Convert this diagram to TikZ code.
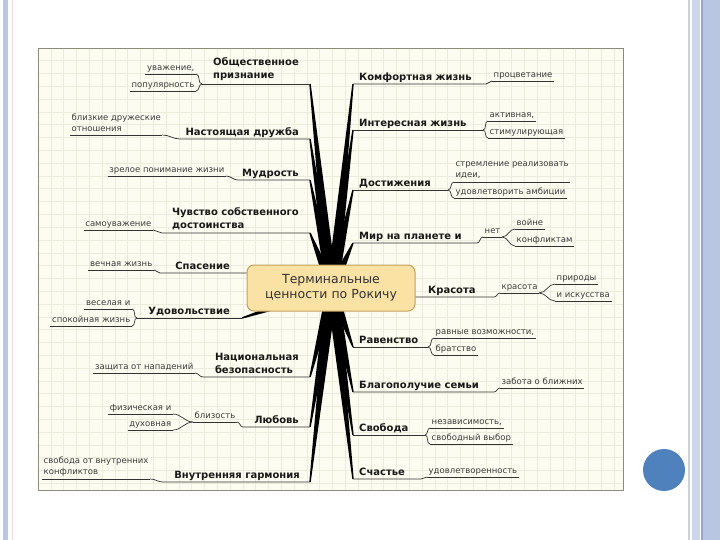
\documentclass[tikz,border=0pt]{standalone}
\usepackage{fontspec}
\setmainfont{DejaVu Sans}
\usetikzlibrary{calc}

\definecolor{paper}{RGB}{252,252,241}
\definecolor{gridc}{RGB}{235,237,220}
\definecolor{framec}{RGB}{140,140,122}
\definecolor{boxfill}{RGB}{250,226,165}
\definecolor{boxline}{RGB}{196,160,92}
\definecolor{subtext}{RGB}{60,60,60}
\definecolor{slidebar}{RGB}{184,198,225}
\definecolor{slidelight}{RGB}{205,214,234}
\definecolor{slidedark}{RGB}{146,166,207}
\definecolor{pinkline}{RGB}{242,220,222}
\definecolor{dotblue}{RGB}{79,129,189}

\begin{document}
\begin{tikzpicture}[x=1pt, y=-1pt,
	ln/.style={draw=black!80, line width=0.7pt},
	mainlbl/.style={font=\fontsize{10}{13}\selectfont\bfseries, text=black!90, inner xsep=2pt, inner ysep=1pt, text depth=2.6pt, align=left},
	sublbl/.style={font=\fontsize{8.5}{11}\selectfont, text=subtext, inner xsep=1.5pt, inner ysep=0.8pt, text depth=2.2pt, align=left,
		append after command={(\tikzlastnode.south west) edge[ln] (\tikzlastnode.south east)}},
	twolines/.style={text depth={}, inner ysep=3pt},
	hubbox/.style={draw=boxline, line width=1pt, fill=boxfill, rounded corners=7pt, minimum width=168pt, minimum height=46pt,
		align=center, font=\fontsize{12.5}{15}\selectfont, text=black!80},
	gridline/.style={draw=gridc, line width=0.6pt}]
	\useasboundingbox (0,0) rectangle (720,540);

	% slide
	\fill[slidebar] (3,0) rectangle (8,540);
	\fill[pinkline] (11.5,0) rectangle (12.5,540);
	\fill[black!18] (688,0) rectangle (689.5,540);
	\fill[slidelight] (692,0) rectangle (700,540);
	\fill[slidedark] (700.5,0) rectangle (703,540);
	\fill[slidebar] (703,0) rectangle (720,540);
	\fill[dotblue] (664,470) circle (21pt);

	% paper with grid
	\fill[paper] (38,48) rectangle (623,490);
	\foreach \gx in {50.8,63.6,...,620}
		\draw[gridline] (\gx,48) -- (\gx,490);
	\foreach \gy in {60.8,73.6,...,488}
		\draw[gridline] (38,\gy) -- (623,\gy);
	\draw[framec, line width=0.8pt] (38,48) rectangle (623,490);

	% spoke ends and junctions
	\coordinate (hub) at (332,289);
	\coordinate (e1) at (310,84);   \coordinate (j1) at (202,84);
	\coordinate (e2) at (310,139);  \coordinate (j2) at (180,139);
	\coordinate (e3) at (310,180);  \coordinate (j3) at (238,180);
	\coordinate (e4) at (310,233);  \coordinate (j4) at (162,233);
	\coordinate (j5) at (160,273);
	\coordinate (e6) at (242,318);  \coordinate (j6) at (137,318);
	\coordinate (e7) at (310,377);  \coordinate (j7) at (203,377);
	\coordinate (e8) at (310,427);  \coordinate (j8) at (243,427);
	\coordinate (e9) at (310,482);  \coordinate (j9) at (163,482);
	\coordinate (e10) at (353,84);  \coordinate (j10) at (486,84);
	\coordinate (e11) at (353,130); \coordinate (j11) at (483,130);
	\coordinate (e12) at (353,190); \coordinate (j12) at (448,190);
	\coordinate (e13) at (353,243); \coordinate (j13) at (477,243);
	\coordinate (j14) at (494,297);
	\coordinate (e15) at (353,347); \coordinate (j15) at (428,347);
	\coordinate (e16) at (353,392); \coordinate (j16) at (494,392);
	\coordinate (e17) at (353,435); \coordinate (j17) at (425,435);
	\coordinate (e18) at (353,479); \coordinate (j18) at (421,479);

	% tapered spokes
	\foreach \e in {e1,e2,e3,e4,e6,e7,e8,e9,e10,e11,e12,e13,e15,e16,e17,e18}
		\fill[black] let \p1=(hub), \p2=(\e), \n1={atan2(\y2-\y1,\x2-\x1)} in
			($(\p1)+(\n1+90:5.5pt)$) -- ($(\p2)+(\n1+90:0.7pt)$) -- ($(\p2)+(\n1-90:0.7pt)$) -- ($(\p1)+(\n1-90:5.5pt)$) -- cycle;

	\node[hubbox] (box) at (331,288) {Терминальные\\ценности по Рокичу};

	% left side
	\node[mainlbl, twolines, anchor=south east] (soc) at (301,84) {Общественное\\признание};
	\node[sublbl, anchor=south east] (uvazh) at (196,74) {уважение,};
	\node[sublbl, anchor=south east] (popul) at (196,91) {популярность};
	\draw[ln] (uvazh.south east) to[out=0,in=180] (j1);
	\draw[ln] (popul.south east) to[out=0,in=180] (j1);
	\draw[ln] (j1) -- (e1);

	\node[mainlbl, anchor=south east] (druzh) at (301,139) {Настоящая дружба};
	\node[sublbl, twolines, anchor=south west] (blizk) at (70,135) {близкие дружеские\\отношения};
	\draw[ln] (blizk.south east) to[out=0,in=180] (j2) -- (e2);

	\node[mainlbl, anchor=south east] (mudr) at (301,180) {Мудрость};
	\node[sublbl, anchor=south east] (zrel) at (226,176) {зрелое понимание жизни};
	\draw[ln] (zrel.south east) to[out=0,in=180] (j3) -- (e3);

	\node[mainlbl, twolines, anchor=south east] (dost) at (301,233) {Чувство собственного\\достоинства};
	\node[sublbl, anchor=south east] (samo) at (153,230) {самоуважение};
	\draw[ln] (samo.south east) to[out=0,in=180] (j4) -- (e4);

	\node[mainlbl, anchor=south east] (spas) at (232,273) {Спасение};
	\node[sublbl, anchor=south east] (vech) at (154,270) {вечная жизнь};
	\draw[ln] (vech.south east) to[out=0,in=180] (j5) -- (box.west |- j5);

	\node[mainlbl, anchor=south east] (udov) at (232,318) {Удовольствие};
	\node[sublbl, anchor=south east] (vesel) at (132,309) {веселая и};
	\node[sublbl, anchor=south east] (spok) at (132,326) {спокойная жизнь};
	\draw[ln] (vesel.south east) to[out=0,in=180] (j6);
	\draw[ln] (spok.south east) to[out=0,in=180] (j6);
	\draw[ln] (j6) -- (e6);

	\node[mainlbl, twolines, anchor=south east] (nats) at (301,377) {Национальная\\безопасность};
	\node[sublbl, anchor=south east] (zasch) at (195,373) {защита от нападений};
	\draw[ln] (zasch.south east) to[out=0,in=180] (j7) -- (e7);

	\node[mainlbl, anchor=south east] (lyub) at (301,427) {Любовь};
	\node[sublbl, anchor=south east] (blizost) at (237,422) {близость};
	\node[sublbl, anchor=south east] (fiz) at (173,414) {физическая и};
	\node[sublbl, anchor=south east] (duh) at (173,430) {духовная};
	\draw[ln] (fiz.south east) to[out=0,in=180] (blizost.south west);
	\draw[ln] (duh.south east) to[out=0,in=180] (blizost.south west);
	\draw[ln] (blizost.south east) to[out=0,in=180] (j8) -- (e8);

	\node[mainlbl, anchor=south east] (garm) at (302,482) {Внутренняя гармония};
	\node[sublbl, twolines, anchor=south west] (svob) at (42,479) {свобода от внутренних\\конфликтов};
	\draw[ln] (svob.south east) to[out=0,in=180] (j9) -- (e9);

	% right side
	\node[mainlbl, anchor=south west] (komf) at (357,84) {Комфортная жизнь};
	\node[sublbl, anchor=south west] (protsv) at (492,81) {процветание};
	\draw[ln] (e10) -- (j10) to[out=0,in=180] (protsv.south west);

	\node[mainlbl, anchor=south west] (inter) at (357,130) {Интересная жизнь};
	\node[sublbl, anchor=south west] (aktiv) at (488,121) {активная,};
	\node[sublbl, anchor=south west] (stim) at (488,138) {стимулирующая};
	\draw[ln] (e11) -- (j11);
	\draw[ln] (j11) to[out=0,in=180] (aktiv.south west);
	\draw[ln] (j11) to[out=0,in=180] (stim.south west);

	\node[mainlbl, anchor=south west] (dostizh) at (357,190) {Достижения};
	\node[sublbl, twolines, anchor=south west] (strem) at (454,182) {стремление реализовать\\идеи,};
	\node[sublbl, anchor=south west] (udovl) at (454,198) {удовлетворить амбиции};
	\draw[ln] (e12) -- (j12);
	\draw[ln] (j12) to[out=0,in=180] (strem.south west);
	\draw[ln] (j12) to[out=0,in=180] (udovl.south west);

	\node[mainlbl, anchor=south west] (mir) at (357,243) {Мир на планете и};
	\node[sublbl, anchor=south west] (net) at (483,237) {нет};
	\node[sublbl, anchor=south west] (voin) at (515,229) {войне};
	\node[sublbl, anchor=south west] (konfl) at (515,246) {конфликтам};
	\draw[ln] (e13) -- (j13) to[out=0,in=180] (net.south west);
	\draw[ln] (net.south east) to[out=0,in=180] (voin.south west);
	\draw[ln] (net.south east) to[out=0,in=180] (konfl.south west);

	\node[mainlbl, anchor=south west] (kras) at (426,297) {Красота};
	\node[sublbl, anchor=south west] (krasota) at (500,293) {красота};
	\node[sublbl, anchor=south west] (prir) at (555,284) {природы};
	\node[sublbl, anchor=south west] (isk) at (555,301) {и искусства};
	\draw[ln] (box.east |- j14) -- (j14) to[out=0,in=180] (krasota.south west);
	\draw[ln] (krasota.south east) to[out=0,in=180] (prir.south west);
	\draw[ln] (krasota.south east) to[out=0,in=180] (isk.south west);

	\node[mainlbl, anchor=south west] (raven) at (357,347) {Равенство};
	\node[sublbl, anchor=south west] (ravn) at (434,338) {равные возможности,};
	\node[sublbl, anchor=south west] (brat) at (434,355) {братство};
	\draw[ln] (e15) -- (j15);
	\draw[ln] (j15) to[out=0,in=180] (ravn.south west);
	\draw[ln] (j15) to[out=0,in=180] (brat.south west);

	\node[mainlbl, anchor=south west] (semya) at (357,392) {Благополучие семьи};
	\node[sublbl, anchor=south west] (zabota) at (500,388) {забота о ближних};
	\draw[ln] (e16) -- (j16) to[out=0,in=180] (zabota.south west);

	\node[mainlbl, anchor=south west] (svoboda) at (357,435) {Свобода};
	\node[sublbl, anchor=south west] (nezav) at (430,428) {независимость,};
	\node[sublbl, anchor=south west] (vybor) at (430,444) {свободный выбор};
	\draw[ln] (e17) -- (j17);
	\draw[ln] (j17) to[out=0,in=180] (nezav.south west);
	\draw[ln] (j17) to[out=0,in=180] (vybor.south west);

	\node[mainlbl, anchor=south west] (schast) at (357,479) {Счастье};
	\node[sublbl, anchor=south west] (udovlet) at (427,477) {удовлетворенность};
	\draw[ln] (e18) -- (j18) to[out=0,in=180] (udovlet.south west);
\end{tikzpicture}
\end{document}
